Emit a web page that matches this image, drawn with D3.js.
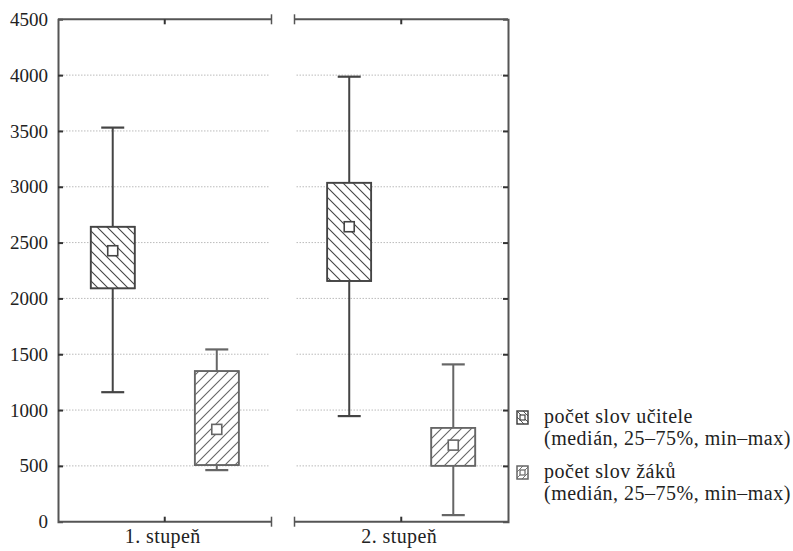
<!DOCTYPE html>
<html><head><meta charset="utf-8">
<script src="https://cdn.jsdelivr.net/npm/d3@7"></script>
<style>
body{margin:0;background:#fff;}
svg{display:block;}
svg text{font-family:"Liberation Serif","Times New Roman","DejaVu Serif",serif !important;fill:#222;}
</style></head>
<body>
<svg id="c" width="793" height="551"></svg>
<script>
const categories = ["1. stupeň", "2. stupeň"];
const seriesNames = ["počet slov učitele", "počet slov žáků"];
const seriesSub = "(medián, 25–75%, min–max)";
// [min, q1, median, q3, max] per category
const teacherStats = [[1160, 2090, 2427, 2642, 3530], [946, 2156, 2642, 3036, 3986]];
const studentStats = [[462, 507, 827, 1349, 1543], [59, 501, 686, 841, 1409]];
const yTicks = [0, 500, 1000, 1500, 2000, 2500, 3000, 3500, 4000, 4500];

const svg = d3.select("#c");
const L = 58, R = 508, T = 19.3, B = 521.7;
const y = d3.scaleLinear().domain([0, 4500]).range([B, T]);
const gapP = 46 / 473;
const xPanel = d3.scaleBand().domain(categories).range([L, R]).paddingInner(gapP).paddingOuter(0);
const bw = xPanel.bandwidth();
const xSeries = d3.scalePoint().domain(seriesNames).range([0, bw]).padding(0.526);
const colors = ["#444", "#666"];
const stats = [teacherStats, studentStats];
const boxW = 44, capW = 23;
const FONT = '"Liberation Serif","Times New Roman","DejaVu Serif",serif';

const defs = svg.append("defs");
function hatch(id, dir, col) {
  const p = defs.append("pattern").attr("id", id).attr("patternUnits", "userSpaceOnUse")
    .attr("width", 10).attr("height", 10);
  if (dir > 0) {
    p.append("path").attr("d", "M-2,2 L2,-2 M0,10 L10,0 M8,12 L12,8");
  } else {
    p.append("path").attr("d", "M-2,8 L2,12 M0,0 L10,10 M8,-2 L12,2");
  }
  p.select("path").attr("stroke", col).attr("stroke-width", 1.1).attr("fill", "none");
}
hatch("hT", -1, "#444");
hatch("hS", 1, "#666");
function hatchSmall(id, dir, col) {
  const p = defs.append("pattern").attr("id", id).attr("patternUnits", "userSpaceOnUse")
    .attr("width", 6).attr("height", 6);
  p.append("path").attr("d", dir > 0 ? "M-1,1 L1,-1 M0,6 L6,0 M5,7 L7,5" : "M-1,5 L1,7 M0,0 L6,6 M5,-1 L7,1")
    .attr("stroke", col).attr("stroke-width", 0.9).attr("fill", "none");
}
hatchSmall("hTs", -1, "#444");
hatchSmall("hSs", 1, "#666");
const fills = ["url(#hT)", "url(#hS)"];
const fillsSmall = ["url(#hTs)", "url(#hSs)"];

// gridlines per panel
categories.forEach(c => {
  const x0 = xPanel(c), x1 = x0 + bw;
  svg.append("g").selectAll("line").data(yTicks.filter(v => v > 0 && v < 4500)).join("line")
    .attr("x1", x0 + 2).attr("x2", x1 - 2)
    .attr("y1", d => y(d)).attr("y2", d => y(d))
    .attr("stroke", "#bbb").attr("stroke-width", 1).attr("stroke-dasharray", "1.5,1.5");
});

// left axis
const gl = svg.append("g").attr("transform", `translate(${L},0)`)
  .call(d3.axisLeft(y).tickValues(yTicks).tickSize(-5).tickPadding(10).tickFormat(d3.format("d")));
gl.attr("font-family", FONT).attr("font-size", 19);
gl.select(".domain").attr("stroke", "#555").attr("stroke-width", 2);
gl.selectAll(".tick line").attr("stroke", "#333").attr("stroke-width", 2);
gl.selectAll(".tick text").attr("fill", "#222");
gl.selectAll(".tick").filter(d => d === 0 || d === 4500).select("line").remove();

// right axis
const gr = svg.append("g").attr("transform", `translate(${R},0)`)
  .call(d3.axisRight(y).tickValues(yTicks).tickSize(-5).tickFormat(""));
gr.select(".domain").attr("stroke", "#555").attr("stroke-width", 2);
gr.selectAll(".tick line").attr("stroke", "#333").attr("stroke-width", 2);
gr.selectAll(".tick").filter(d => d === 0 || d === 4500).select("line").remove();

// top & bottom frame lines per panel
categories.forEach((c, i) => {
  const x0 = xPanel(c), x1 = x0 + bw, xc = x0 + bw / 2;
  [[T, 1], [B, -1]].forEach(([yy, dir]) => {
    const g = svg.append("g").attr("stroke", "#555").attr("stroke-width", 2);
    g.append("line").attr("x1", x0).attr("x2", x1).attr("y1", yy).attr("y2", yy);
    g.append("line").attr("x1", xc).attr("x2", xc).attr("y1", yy).attr("y2", yy + 5 * dir).attr("stroke", "#333");
    const capX = i === 0 ? x1 : x0;
    g.append("line").attr("x1", capX).attr("x2", capX).attr("y1", yy - 5).attr("y2", yy + 5).attr("stroke-width", 1.5);
  });
  svg.append("text").attr("x", xc - 2).attr("y", 543).attr("text-anchor", "middle")
    .attr("font-family", FONT).attr("font-size", 20).style("letter-spacing", "0.4px").text(c);
});

// boxes
seriesNames.forEach((s, si) => {
  categories.forEach((c, ci) => {
    const [mn, q1, md, q3, mx] = stats[si][ci];
    const cx = xPanel(c) + xSeries(s);
    const g = svg.append("g").attr("stroke", colors[si]).attr("stroke-width", 1.6).attr("fill", "none");
    g.append("line").attr("x1", cx).attr("x2", cx).attr("y1", y(q3)).attr("y2", y(mx)).attr("stroke-width", 2);
    g.append("line").attr("x1", cx).attr("x2", cx).attr("y1", y(q1)).attr("y2", y(mn)).attr("stroke-width", 2);
    g.append("line").attr("x1", cx - capW / 2).attr("x2", cx + capW / 2).attr("y1", y(mx)).attr("y2", y(mx)).attr("stroke-width", 2.2);
    g.append("line").attr("x1", cx - capW / 2).attr("x2", cx + capW / 2).attr("y1", y(mn)).attr("y2", y(mn)).attr("stroke-width", 2.2);
    g.append("rect").attr("x", cx - boxW / 2).attr("y", y(q3)).attr("width", boxW).attr("height", y(q1) - y(q3))
      .attr("fill", "#fff");
    g.append("rect").attr("x", cx - boxW / 2).attr("y", y(q3)).attr("width", boxW).attr("height", y(q1) - y(q3))
      .attr("fill", fills[si]);
    g.append("rect").attr("x", cx - 5).attr("y", y(md) - 5).attr("width", 10).attr("height", 10)
      .attr("fill", "#fff").attr("stroke-width", 1.6);
  });
});

// legend
const legY = [411, 466];
seriesNames.forEach((s, si) => {
  const g = svg.append("g").attr("transform", `translate(517,${legY[si]})`);
  g.append("rect").attr("x", 0).attr("y", 0).attr("width", 11).attr("height", 13).attr("fill", "#fff")
    .attr("stroke", colors[si]).attr("stroke-width", 1.5);
  g.append("rect").attr("x", 0).attr("y", 0).attr("width", 11).attr("height", 13).attr("fill", fillsSmall[si]);
  g.append("rect").attr("x", 3).attr("y", 4).attr("width", 5).attr("height", 5).attr("fill", "#fff")
    .attr("stroke", colors[si]).attr("stroke-width", 1.2);
  g.append("text").attr("x", 27).attr("y", 12).attr("font-family", FONT).attr("font-size", 20)
    .style("letter-spacing", "0.5px").text(s);
  g.append("text").attr("x", 27).attr("y", 34).attr("font-family", FONT).attr("font-size", 20)
    .style("letter-spacing", "0.5px").text(seriesSub);
});
</script>
</body></html>
